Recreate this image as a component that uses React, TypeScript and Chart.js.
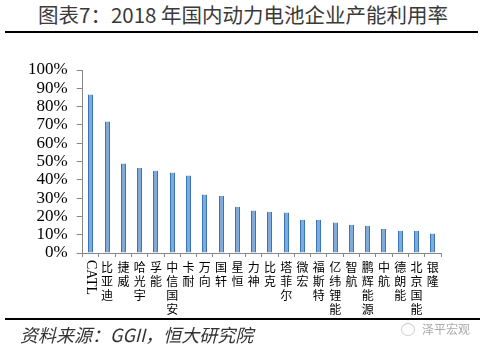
import React, { useEffect, useRef } from 'react';
import { Chart, registerables } from 'chart.js';

Chart.register(...registerables);

const categories = ['CATL', '比亚迪', '捷威', '哈光宇', '孚能', '中信国安', '卡耐', '万向', '国轩', '星恒', '力神', '比克', '塔菲尔', '微宏', '福斯特', '亿纬锂能', '智航', '鹏辉能源', '中航', '德朗能', '北京国能', '银隆'];
const utilization = [86.6, 71.9, 48.9, 46.5, 45.0, 44.0, 42.3, 31.9, 31.2, 25.3, 23.2, 22.6, 22.1, 18.2, 18.2, 16.6, 15.5, 14.9, 13.3, 12.2, 12.2, 10.6];
const yMin = 0;
const yMax = 100;
const yStep = 10;

const titleText = '图表7：2018 年国内动力电池企业产能利用率';
const sourceText = '资料来源：GGII，恒大研究院';
const watermarkText = '泽平宏观';

const X_TICK_PADDING = 3;

// snap bars to whole pixels so every bar renders with the same crisp edges
const pixelSnapPlugin = {
  id: 'pixelSnap',
  beforeDatasetsDraw(chart: any) {
    chart.data.datasets.forEach((_d: any, di: number) => {
      const meta = chart.getDatasetMeta(di);
      meta.data.forEach((el: any) => {
        const w = Math.round(el.width);
        el.width = w;
        const left = Math.round(el.x - w / 2);
        el.x = left + w / 2;
      });
    });
  },
};

const rotatedLabelPlugin = {
  id: 'rotatedLabel',
  afterDraw(chart: any) {
    const scale = chart.scales.x;
    const ctx = chart.ctx;
    categories.forEach((c, i) => {
      if (!/^[A-Za-z]+$/.test(c)) return;
      const x = scale.getPixelForTick(i);
      const y = scale.top + 4 + X_TICK_PADDING;
      ctx.save();
      ctx.translate(x, y);
      ctx.rotate(Math.PI / 2);
      ctx.font = '14px "Liberation Serif", "Times New Roman", serif';
      ctx.fillStyle = '#000';
      ctx.textAlign = 'left';
      ctx.textBaseline = 'middle';
      ctx.fillText(c, 0, 0);
      ctx.restore();
    });
  },
};

function BarChart() {
  const ref = useRef<HTMLCanvasElement | null>(null);
  useEffect(() => {
    if (!ref.current) return;
    const chart = new Chart(ref.current, {
      type: 'bar',
      data: {
        labels: categories,
        datasets: [
          {
            data: utilization,
            backgroundColor: '#80AADA',
            borderColor: '#3A75BA',
            borderWidth: { left: 1, right: 1, top: 0, bottom: 0 } as any,
            borderSkipped: false as any,
            barPercentage: 0.31,
            categoryPercentage: 1,
          },
        ],
      },
      options: {
        animation: false,
        responsive: false,
        maintainAspectRatio: false,
        layout: { padding: { left: 19, right: 45, top: 30, bottom: 4 } },
        plugins: {
          legend: { display: false },
          tooltip: { enabled: false },
          title: { display: false },
        },
        scales: {
          x: {
            offset: true,
            grid: {
              offset: true,
              drawOnChartArea: false,
              drawTicks: true,
              tickLength: 4,
              color: '#888',
            },
            border: { color: '#888', width: 1 },
            ticks: {
              autoSkip: false,
              maxRotation: 0,
              minRotation: 0,
              padding: X_TICK_PADDING,
              font: { family: '"Noto Sans CJK SC", sans-serif', size: 12, lineHeight: '14px' as any },
              color: (ctx: any) => (/^[A-Za-z]+$/.test(categories[ctx.index] || '') ? 'rgba(0,0,0,0)' : '#000'),
              callback: (_v: any, i: number) => categories[i].split(''),
            },
          },
          y: {
            min: yMin,
            max: yMax,
            grid: {
              drawOnChartArea: false,
              drawTicks: true,
              tickLength: 6,
              color: '#888',
            },
            border: { color: '#888', width: 1 },
            ticks: {
              autoSkip: false,
              stepSize: yStep,
              padding: 9,
              font: { family: '"Liberation Serif", "Times New Roman", serif', size: 17 },
              color: '#000',
              callback: (v: any) => `${v}%`,
            },
          },
        },
      },
      plugins: [pixelSnapPlugin, rotatedLabelPlugin],
    });
    return () => chart.destroy();
  }, []);
  return (
    <canvas
      ref={ref}
      width={486}
      height={283}
      style={{ position: 'absolute', left: 0, top: 40, width: 486, height: 283 }}
    />
  );
}

export default function App() {
  return (
    <div
      style={{
        position: 'fixed',
        left: 0,
        top: 0,
        width: 486,
        height: 352,
        background: '#fff',
        overflow: 'hidden',
      }}
    >
      <div
        style={{
          position: 'absolute',
          left: 0,
          top: 1,
          width: 486,
          textAlign: 'center',
          fontFamily: '"Noto Sans CJK SC", sans-serif',
          fontSize: 20.5,
          lineHeight: '26px',
          color: '#3a3a3a',
          whiteSpace: 'nowrap',
        }}
      >
        {titleText}
      </div>
      <div style={{ position: 'absolute', left: 5, top: 31, width: 473, height: 2, background: '#000' }} />
      <BarChart />
      <div style={{ position: 'absolute', left: 5, top: 318, width: 475, height: 2, background: '#000' }} />
      <div
        style={{
          position: 'absolute',
          left: 20,
          top: 321,
          fontFamily: '"Noto Sans CJK SC", sans-serif',
          fontSize: 18,
          lineHeight: '26px',
          fontStyle: 'italic',
          color: '#333',
          whiteSpace: 'nowrap',
        }}
      >
        {sourceText}
      </div>
      <div
        style={{
          position: 'absolute',
          left: 401,
          top: 323,
          width: 12,
          height: 11,
          borderRadius: '50%',
          border: '1px solid #ccc',
        }}
      />
      <div
        style={{
          position: 'absolute',
          left: 422,
          top: 320,
          fontFamily: '"Noto Sans CJK SC", sans-serif',
          fontSize: 12,
          lineHeight: '18px',
          color: '#aaa',
          whiteSpace: 'nowrap',
        }}
      >
        {watermarkText}
      </div>
    </div>
  );
}
